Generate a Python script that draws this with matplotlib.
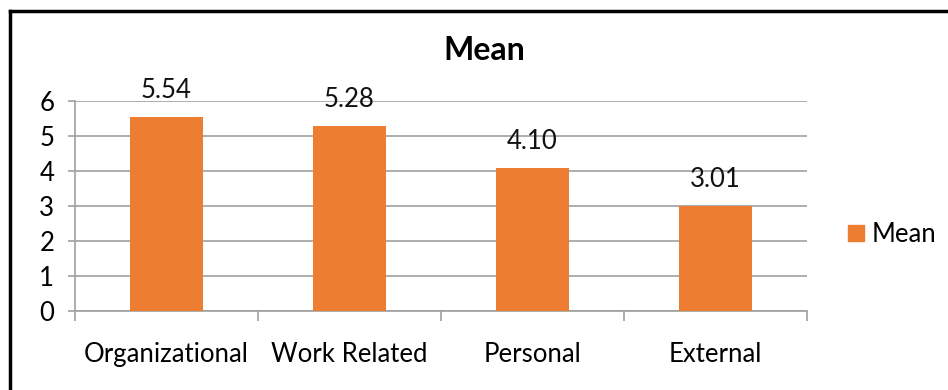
import numpy as np
import matplotlib
matplotlib.use("Agg")
import matplotlib.pyplot as plt
from matplotlib.lines import Line2D

plt.rcParams['font.family'] = ['Lato', 'DejaVu Sans']

categorias = ["Organizational", "Work Related", "Personal", "External"]
medias = [5.54, 5.28, 4.10, 3.01]
etiquetas = ["5.54", "5.28", "4.10", "3.01"]
yticks = [0, 1, 2, 3, 4, 5, 6]

naranja = "#ED7D31"
gris = "#A0A0A0"

fig = plt.figure(figsize=(9.48, 3.9), dpi=100)
ax = fig.add_axes([75/948, 1 - 311/390, (807 - 75)/948, (311 - 101)/390])

x = np.arange(len(categorias))
ax.bar(x, medias, width=0.4, color=naranja, zorder=3, label="Mean")

for xi, v, t in zip(x, medias, etiquetas):
    ax.text(xi, v + 0.4, t, ha="center", va="bottom", fontsize=18.5, color="#111111")

ax.set_xlim(-0.5, len(categorias) - 0.5)
ax.set_ylim(0, 6)
ax.set_yticks(yticks)
ax.set_yticklabels([str(v) for v in yticks], fontsize=18.5)
ax.yaxis.grid(True, color=gris, linewidth=1.2, zorder=0)
ax.set_xticks(x)
ax.set_xticklabels(categorias, fontsize=18.5)
ax.tick_params(axis="x", length=0, pad=22)
ax.tick_params(axis="y", length=5, color=gris, width=1.2, pad=10)

# marcas del eje x entre categorias
ax.set_xticks(np.arange(-0.5, len(categorias)), minor=True)
ax.tick_params(axis="x", which="minor", length=7, color=gris, width=1.2)

for s in ["top", "right"]:
    ax.spines[s].set_visible(False)
for s in ["left", "bottom"]:
    ax.spines[s].set_color(gris)
    ax.spines[s].set_linewidth(1.2)

fig.text(484/948, 1 - 50/390, "Mean", ha="center", va="center", fontsize=23, fontweight="bold")

handle = Line2D([0], [0], marker="s", linestyle="none", markersize=11,
                markerfacecolor=naranja, markeredgecolor=naranja)
fig.legend([handle], ["Mean"], loc="center left", bbox_to_anchor=(820/948, 1 - 234/390),
           frameon=False, fontsize=18.5, handletextpad=0.1, handlelength=1.0)

# borde del grafico (solo arriba e izquierda visibles)
fig.add_artist(Line2D([10/948, 10/948], [0, 1 - 11/390], color="black", linewidth=2.5,
                      transform=fig.transFigure))
fig.add_artist(Line2D([10/948, 1], [1 - 11/390, 1 - 11/390], color="black", linewidth=2.5,
                      transform=fig.transFigure))

fig.savefig("out.png", dpi=100)
